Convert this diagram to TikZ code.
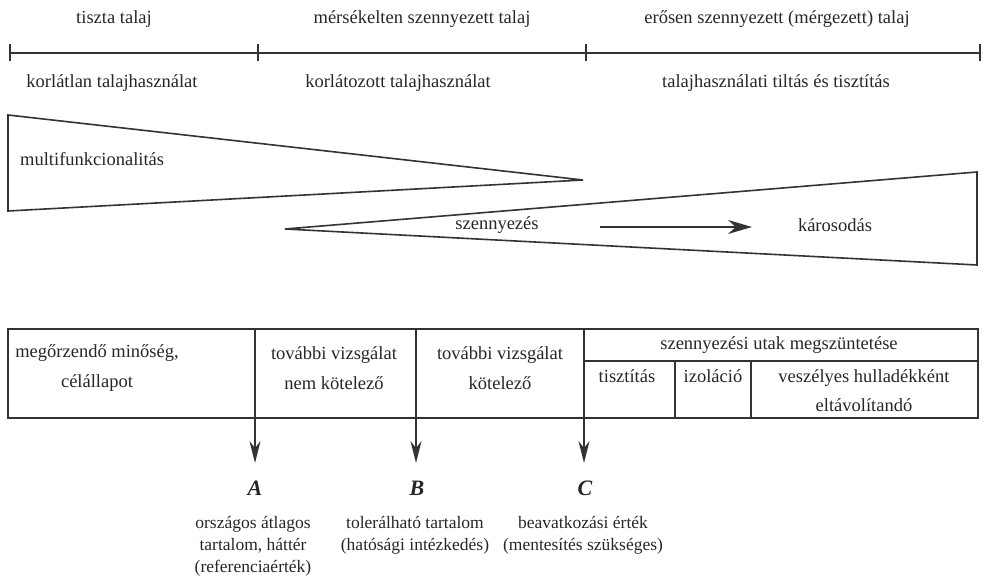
\documentclass[tikz,border=0pt]{standalone}
\usepackage{fontspec}
\setmainfont{Liberation Serif}
\usetikzlibrary{arrows.meta}
\begin{document}
\begin{tikzpicture}[x=1pt,y=-1pt,
  txt/.style={font=\fontsize{18.5}{29.5}\selectfont, inner sep=0pt, align=center, text=black!85},
  small/.style={font=\fontsize{17.5}{22}\selectfont},
  letter/.style={font=\fontsize{22}{24}\selectfont\itshape\bfseries},
  thick line/.style={line width=2pt, draw=black!80},
  thin line/.style={line width=1.6pt, draw=black!80},
  downarrow/.style={line width=1.6pt, draw=black!80, -{Stealth[length=22pt,width=11pt]}},
  bigarrow/.style={line width=2pt, draw=black!80, -{Stealth[length=24pt,width=14pt]}}]
\useasboundingbox (0,0) rectangle (995,577);
% top scale
\coordinate (t0) at (10,53);
\coordinate (t1) at (258,53);
\coordinate (t2) at (586,53);
\coordinate (t3) at (980,53);
\draw[thick line] (t0) -- (t3);
\foreach \t in {t0,t1,t2,t3} \draw[thick line] ([yshift=-8pt]\t) -- ([yshift=9pt]\t);
\node[txt] (tiszta) at (114,19) {tiszta talaj};
\node[txt] (merse) at (422,19) {mérsékelten szennyezett talaj};
\node[txt] (erosen) at (777,19) {erősen szennyezett (mérgezett) talaj};
\node[txt] (korl) at (112,83) {korlátlan talajhasználat};
\node[txt] (korlt) at (398,83) {korlátozott talajhasználat};
\node[txt] (tilt) at (776,83) {talajhasználati tiltás és tisztítás};
% wedges
\coordinate (w1a) at (8,115);
\coordinate (w1b) at (583,180);
\coordinate (w1c) at (8,211);
\draw[thin line, line join=miter] (w1a) -- (w1b) -- (w1c) -- cycle;
\node[txt, anchor=west] (multi) at (20,159) {multifunkcionalitás};
\coordinate (w2a) at (285,229);
\coordinate (w2b) at (977,172);
\coordinate (w2c) at (977,265);
\draw[thin line, line join=miter] (w2a) -- (w2b) -- (w2c) -- cycle;
\node[txt] (szenny) at (497,225) {szennyezés};
\node[txt] (karos) at (835,225) {károsodás};
\coordinate (arrS) at (600,227);
\coordinate (arrE) at (752,227);
\draw[bigarrow] (arrS) -- (arrE);
% box
\coordinate (bTL) at (8,329);
\coordinate (bBR) at (978,418);
\draw[thin line] (bTL) rectangle (bBR);
\coordinate (dA) at (255,329);
\coordinate (dB) at (416,329);
\coordinate (dC) at (584,329);
\coordinate (dAb) at (255,418);
\coordinate (dBb) at (416,418);
\coordinate (dCb) at (584,418);
\draw[thin line] (dA) -- (dAb);
\draw[thin line] (dB) -- (dBb);
\draw[thin line] (dC) -- (dCb);
\coordinate (hL) at (584,361);
\coordinate (hR) at (978,361);
\draw[thin line] (hL) -- (hR);
\coordinate (s1) at (675,361);
\coordinate (s1b) at (675,418);
\coordinate (s2) at (751,361);
\coordinate (s2b) at (751,418);
\draw[thin line] (s1) -- (s1b);
\draw[thin line] (s2) -- (s2b);
\node[txt] (megorz) at (97,368) {megőrzendő minőség,\\célállapot};
\node[txt] (tovnem) at (334,368) {további vizsgálat\\nem kötelező};
\node[txt] (tovkot) at (500,368) {további vizsgálat\\kötelező};
\node[txt] (utak) at (779,345) {szennyezési utak megszüntetése};
\node[txt, anchor=north] (tiszt) at (627,369) {tisztítás};
\node[txt, anchor=north] (izol) at (713,369) {izoláció};
\node[txt, anchor=north] (vesz) at (864,369) {veszélyes hulladékként\\eltávolítandó};
% arrows to A B C
\coordinate (tA) at (255,463);
\coordinate (tB) at (416,463);
\coordinate (tC) at (584,463);
\draw[downarrow] (dAb) -- (tA);
\draw[downarrow] (dBb) -- (tB);
\draw[downarrow] (dCb) -- (tC);
\node[txt, letter] (A) at (255,488) {A};
\node[txt, letter] (B) at (417,488) {B};
\node[txt, letter] (C) at (585,488) {C};
\node[txt, small, anchor=north] (Atxt) at (253,516) {országos átlagos\\tartalom, háttér\\(referenciaérték)};
\node[txt, small, anchor=north] (Btxt) at (415,516) {tolerálható tartalom\\(hatósági intézkedés)};
\node[txt, small, anchor=north] (Ctxt) at (583,516) {beavatkozási érték\\(mentesítés szükséges)};
\end{tikzpicture}
\end{document}
